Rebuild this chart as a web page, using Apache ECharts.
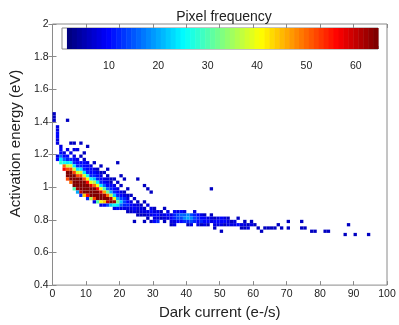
<!DOCTYPE html>
<html>
<head>
<meta charset="utf-8">
<script src="https://cdn.jsdelivr.net/npm/echarts@6/dist/echarts.min.js"></script>
<style>
html,body{margin:0;padding:0;background:#fff;}
#chart{width:399px;height:325px;}
</style>
</head>
<body>
<div id="chart"></div>
<script>
// ---- data: 2D histogram cells [dark current bin centre, activation energy bin centre, pixel count]
const BIN_X = 1;      // e-/s
const BIN_Y = 0.02;   // eV

const strayCells = [
  [0.5,1.45,6],[0.5,1.43,6],[0.5,1.41,6],[4.5,1.41,6],
  [5.5,1.27,6],[6.5,1.27,6],[8.5,1.27,6],[10.5,1.25,6],[6.5,1.23,8],[7.5,1.23,8],[9.5,1.21,6],
  [12.5,1.15,6],[14.5,1.13,6],[16.5,1.11,6],[19.5,1.15,6],[20.5,1.07,6],[21.5,1.05,6],
  [25.5,1.05,6],[27.5,1.01,6],[28.5,0.99,6],[29.5,0.97,6],[22.5,0.99,6],[47.5,0.99,6]
];

const leftCells = [
  [1.5,1.37,8],[1.5,1.35,8],[1.5,1.33,10],[1.5,1.31,10],[1.5,1.29,8],[1.5,1.27,8],[1.5,1.19,8],[1.5,1.17,10],
  [2.5,1.25,8],[2.5,1.23,10],[2.5,1.21,10],[2.5,1.19,16],[2.5,1.17,24],[2.5,1.15,28],
  [3.5,1.21,8],[3.5,1.19,10],[3.5,1.17,16],[3.5,1.15,26],[3.5,1.13,50],[3.5,1.11,56],
  [4.5,1.23,8],[4.5,1.19,10],[4.5,1.17,12],[4.5,1.15,24],[4.5,1.13,38],[4.5,1.11,52],[4.5,1.09,64],[4.5,1.07,64],[4.5,1.05,52],
  [5.5,1.21,8],[5.5,1.17,12],[5.5,1.15,24],[5.5,1.13,38],[5.5,1.11,52],[5.5,1.09,64],[5.5,1.07,64],[5.5,1.05,64],[5.5,1.03,50],
  [6.5,1.19,8],[6.5,1.17,10],[6.5,1.15,12],[6.5,1.13,24],[6.5,1.11,38],[6.5,1.09,52],[6.5,1.07,64],[6.5,1.05,64],[6.5,1.03,64],[6.5,1.01,64],[6.5,0.99,30],
  [7.5,1.17,8],[7.5,1.15,10],[7.5,1.13,12],[7.5,1.11,24],[7.5,1.09,38],[7.5,1.07,52],[7.5,1.05,64],[7.5,1.03,64],[7.5,1.01,64],[7.5,0.99,62],[7.5,0.97,20],
  [8.5,1.19,6],[8.5,1.15,10],[8.5,1.13,12],[8.5,1.11,24],[8.5,1.09,38],[8.5,1.07,52],[8.5,1.05,64],[8.5,1.03,64],[8.5,1.01,64],[8.5,0.99,64],[8.5,0.97,60],[8.5,0.95,12],
  [9.5,1.17,6],[9.5,1.15,10],[9.5,1.13,10],[9.5,1.11,12],[9.5,1.09,24],[9.5,1.07,38],[9.5,1.05,52],[9.5,1.03,64],[9.5,1.01,64],[9.5,0.99,64],[9.5,0.97,64],[9.5,0.95,44]
];

const midCells = [
  [10.5,1.15,8],[10.5,1.13,10],[10.5,1.11,10],[10.5,1.09,12],[10.5,1.07,26],[10.5,1.05,40],[10.5,1.03,56],[10.5,1.01,64],[10.5,0.99,64],[10.5,0.97,64],[10.5,0.95,56],[10.5,0.93,12],
  [11.5,1.13,8],[11.5,1.11,10],[11.5,1.09,10],[11.5,1.07,12],[11.5,1.05,26],[11.5,1.03,40],[11.5,1.01,58],[11.5,0.99,64],[11.5,0.97,64],[11.5,0.95,64],[11.5,0.93,36],
  [12.5,1.11,8],[12.5,1.09,10],[12.5,1.07,12],[12.5,1.05,22],[12.5,1.03,36],[12.5,1.01,50],[12.5,0.99,64],[12.5,0.97,64],[12.5,0.95,64],[12.5,0.93,52],[12.5,0.91,8],
  [13.5,1.11,6],[13.5,1.09,8],[13.5,1.07,10],[13.5,1.05,12],[13.5,1.03,24],[13.5,1.01,40],[13.5,0.99,56],[13.5,0.97,64],[13.5,0.95,64],[13.5,0.93,64],[13.5,0.91,30],
  [14.5,1.09,6],[14.5,1.07,8],[14.5,1.05,10],[14.5,1.03,12],[14.5,1.01,24],[14.5,0.99,40],[14.5,0.97,58],[14.5,0.95,64],[14.5,0.93,64],[14.5,0.91,40],[14.5,0.89,8],
  [15.5,1.09,6],[15.5,1.05,8],[15.5,1.03,10],[15.5,1.01,16],[15.5,0.99,30],[15.5,0.97,46],[15.5,0.95,62],[15.5,0.93,64],[15.5,0.91,44],[15.5,0.89,10],
  [16.5,1.07,6],[16.5,1.05,8],[16.5,1.03,8],[16.5,1.01,10],[16.5,0.99,16],[16.5,0.97,32],[16.5,0.95,50],[16.5,0.93,64],[16.5,0.91,60],[16.5,0.89,14],
  [17.5,1.05,6],[17.5,1.03,6],[17.5,1.01,10],[17.5,0.99,12],[17.5,0.97,20],[17.5,0.95,36],[17.5,0.93,60],[17.5,0.91,64],[17.5,0.89,22],
  [18.5,1.05,6],[18.5,1.01,8],[18.5,0.99,10],[18.5,0.97,12],[18.5,0.95,22],[18.5,0.93,40],[18.5,0.91,62],[18.5,0.89,26],[18.5,0.87,8],
  [19.5,1.03,6],[19.5,0.99,8],[19.5,0.97,10],[19.5,0.95,12],[19.5,0.93,20],[19.5,0.91,32],[19.5,0.89,24],[19.5,0.87,10],
  [20.5,1.01,6],[20.5,0.97,8],[20.5,0.95,10],[20.5,0.93,14],[20.5,0.91,22],[20.5,0.89,16],[20.5,0.87,8],
  [21.5,0.97,6],[21.5,0.95,8],[21.5,0.93,12],[21.5,0.91,14],[21.5,0.89,12],[21.5,0.87,8],
  [22.5,0.95,6],[22.5,0.93,8],[22.5,0.91,10],[22.5,0.89,12],[22.5,0.87,8],[22.5,0.85,6],
  [23.5,0.95,6],[23.5,0.91,8],[23.5,0.89,10],[23.5,0.87,8],[23.5,0.85,6],
  [24.5,0.93,6],[24.5,0.89,8],[24.5,0.87,10],[24.5,0.85,8],[24.5,0.79,6],
  [25.5,0.91,6],[25.5,0.89,8],[25.5,0.87,8],[25.5,0.85,6],[25.5,0.83,6],
  [26.5,0.89,6],[26.5,0.87,8],[26.5,0.85,8],[26.5,0.83,6],
  [27.5,0.91,6],[27.5,0.87,6],[27.5,0.85,8],[27.5,0.83,6],[27.5,0.79,6],
  [28.5,0.89,8],[28.5,0.85,8],[28.5,0.83,8],[28.5,0.81,6]
];

const tailCells = [
  [29.5,0.87,8],[29.5,0.85,10],[29.5,0.83,8],[29.5,0.79,6],
  [30.5,0.87,6],[30.5,0.85,8],[30.5,0.83,10],[30.5,0.81,8],[30.5,0.79,10],
  [31.5,0.85,8],[31.5,0.83,10],[31.5,0.81,8],[31.5,0.79,12],
  [32.5,0.85,6],[32.5,0.83,8],[32.5,0.81,6],
  [33.5,0.87,6],[33.5,0.83,8],[33.5,0.81,8],[33.5,0.79,6],
  [34.5,0.85,8],[34.5,0.83,10],[34.5,0.81,8],
  [35.5,0.83,8],[35.5,0.81,10],[35.5,0.79,8],[35.5,0.77,6],
  [36.5,0.85,10],[36.5,0.83,12],[36.5,0.81,12],[36.5,0.79,8],[36.5,0.77,8],
  [37.5,0.85,8],[37.5,0.83,14],[37.5,0.81,14],[37.5,0.79,10],
  [38.5,0.85,10],[38.5,0.83,16],[38.5,0.81,14],[38.5,0.79,10],
  [39.5,0.85,8],[39.5,0.83,16],[39.5,0.81,18],[39.5,0.79,12],
  [40.5,0.83,18],[40.5,0.81,20],[40.5,0.79,12],[40.5,0.77,6],
  [41.5,0.83,14],[41.5,0.81,18],[41.5,0.79,14],[41.5,0.77,8],
  [42.5,0.85,8],[42.5,0.83,12],[42.5,0.81,14],[42.5,0.79,12],
  [43.5,0.83,10],[43.5,0.81,12],[43.5,0.79,10],[43.5,0.77,8],
  [44.5,0.83,8],[44.5,0.81,10],[44.5,0.79,12],[44.5,0.77,6],
  [45.5,0.83,6],[45.5,0.81,10],[45.5,0.79,10],[45.5,0.77,8],
  [46.5,0.81,8],[46.5,0.79,10],[46.5,0.77,6],
  [47.5,0.83,6],[47.5,0.81,8],[47.5,0.79,8],
  [48.5,0.81,6],[48.5,0.79,10],[48.5,0.77,8],[48.5,0.75,6],
  [49.5,0.81,8],[49.5,0.79,10],[49.5,0.77,8],
  [50.5,0.81,10],[50.5,0.79,10],[50.5,0.77,8],[50.5,0.73,6],
  [51.5,0.81,8],[51.5,0.79,10],[51.5,0.77,6],
  [52.5,0.81,6],[52.5,0.79,8],[52.5,0.77,8],
  [53.5,0.79,6],[53.5,0.77,8],
  [54.5,0.79,8],[54.5,0.77,8],
  [55.5,0.81,6],[55.5,0.77,10],
  [56.5,0.77,8],[56.5,0.75,6],
  [57.5,0.79,6],[57.5,0.77,8],[57.5,0.75,6],
  [58.5,0.77,6],[58.5,0.75,8],
  [59.5,0.79,6],[59.5,0.77,8],
  [60.5,0.77,6],[61.5,0.75,6],[62.5,0.73,6],[63.5,0.75,6],[64.5,0.75,6],[65.5,0.75,6],
  [66.5,0.75,6],[67.5,0.77,6],[68.5,0.75,6],[70.5,0.79,6],[70.5,0.75,6],
  [74.5,0.75,6],[74.5,0.79,6],[75.5,0.75,6],[77.5,0.73,6],[78.5,0.73,6],
  [81.5,0.73,6],[82.5,0.73,6],[88.5,0.77,6],[87.5,0.71,6],[90.5,0.71,6],[94.5,0.71,6]
];

const xTicks = [0,10,20,30,40,50,60,70,80,90,100];
const yTicks = [0.4,0.6,0.8,1,1.2,1.4,1.6,1.8,2];
const colorbarTicks = [10,20,30,40,50,60];
const colorLevels = [2,3,4,5,6,7,8,9,10,11,12,13,14,15,16,17,18,19,20,21,22,23,24,25,26,27,28,29,30,31,32,33,
  34,35,36,37,38,39,40,41,42,43,44,45,46,47,48,49,50,51,52,53,54,55,56,57,58,59,60,61,62,63,64];
const JET = ['#000080','#0000ff','#0080ff','#00ffff','#80ff80','#ffff00','#ff8000','#ff0000','#800000'];

const allCells = [].concat(strayCells, leftCells, midCells, tailCells);

const FONT = 'Liberation Sans, Arial, sans-serif';
const AX = '#8a8a8a';
const TXT = '#222';

function cellItem(params, api) {
  const x = api.value(0), y = api.value(1);
  const p0 = api.coord([x - BIN_X / 2, y + BIN_Y / 2]);
  const p1 = api.coord([x + BIN_X / 2, y - BIN_Y / 2]);
  return {type: 'rect', shape: {x: p0[0], y: p0[1], width: p1[0] - p0[0], height: p1[1] - p0[1]},
    style: {fill: api.visual('color')}};
}
function barItem(params, api) {
  const v = api.value(0);
  const p0 = api.coord([v - 0.5, 1]);
  const p1 = api.coord([v + 0.5, 0]);
  return {type: 'rect', shape: {x: p0[0], y: p0[1], width: p1[0] - p0[0] + 0.5, height: p1[1] - p0[1]},
    style: {fill: api.visual('color')}};
}

const chart = echarts.init(document.getElementById('chart'), null, {renderer: 'canvas'});
const tickCommon = {show: true, inside: true, length: 4, lineStyle: {color: AX}};
chart.setOption({
  animation: false,
  backgroundColor: '#fff',
  title: {text: 'Pixel frequency', left: 219, top: 5, textAlign: 'center',
    textStyle: {fontFamily: FONT, fontSize: 14, fontWeight: 'normal', color: TXT}},
  grid: [
    {left: 52, right: 12, top: 24, bottom: 37, show: true, borderColor: AX, borderWidth: 1, backgroundColor: 'transparent'},
    {left: 62, top: 28, width: 316, height: 21, show: true, borderColor: AX, borderWidth: 1, backgroundColor: '#fff', z: 5}
  ],
  visualMap: {type: 'continuous', show: false, min: 2, max: 64, dimension: 2, seriesIndex: [0, 1],
    inRange: {color: JET}},
  xAxis: [
    {type: 'value', gridIndex: 0, min: xTicks[0], max: xTicks[xTicks.length - 1], interval: 10,
      name: 'Dark current (e-/s)', nameLocation: 'middle', nameGap: 17,
      nameTextStyle: {fontFamily: FONT, fontSize: 15, color: TXT},
      axisLine: {show: false}, axisTick: tickCommon, splitLine: {show: false},
      axisLabel: {fontFamily: FONT, fontSize: 10.5, color: TXT, margin: 4}},
    {type: 'value', gridIndex: 0, position: 'top', min: xTicks[0], max: xTicks[xTicks.length - 1], interval: 10,
      axisLine: {show: false}, axisTick: tickCommon, splitLine: {show: false}, axisLabel: {show: false}},
    {type: 'value', gridIndex: 1, min: 0.5, max: 64.5, interval: 10,
      axisLine: {show: false}, axisTick: {show: true, inside: true, length: 3, lineStyle: {color: AX}},
      splitLine: {show: false},
      axisLabel: {fontFamily: FONT, fontSize: 10.5, color: TXT, margin: 12,
        customValues: colorbarTicks}, customValues: colorbarTicks},
    {type: 'value', gridIndex: 1, position: 'top', min: 0.5, max: 64.5,
      axisLine: {show: false}, axisTick: {show: true, inside: true, length: 3, lineStyle: {color: AX}, customValues: colorbarTicks},
      splitLine: {show: false}, axisLabel: {show: false}}
  ],
  yAxis: [
    {type: 'value', gridIndex: 0, min: yTicks[0], max: yTicks[yTicks.length - 1], interval: 0.2,
      name: 'Activation energy (eV)', nameLocation: 'middle', nameGap: 24,
      nameTextStyle: {fontFamily: FONT, fontSize: 15, color: TXT, padding: [0, 0, 0, 22]},
      axisLine: {show: false}, axisTick: tickCommon, splitLine: {show: false},
      axisLabel: {fontFamily: FONT, fontSize: 10.5, color: TXT, margin: 4,
        formatter: v => String(+v.toFixed(1))}},
    {type: 'value', gridIndex: 0, position: 'right', min: yTicks[0], max: yTicks[yTicks.length - 1], interval: 0.2,
      axisLine: {show: false}, axisTick: tickCommon, splitLine: {show: false}, axisLabel: {show: false}},
    {type: 'value', gridIndex: 1, min: 0, max: 1, show: false}
  ],
  series: [
    {type: 'custom', xAxisIndex: 0, yAxisIndex: 0, renderItem: cellItem, clip: true,
      encode: {x: 0, y: 1}, data: allCells, z: 2},
    {type: 'custom', xAxisIndex: 2, yAxisIndex: 2, renderItem: barItem, z: 6,
      encode: {x: 0}, data: colorLevels.map(v => [v, 0.5, v])}
  ]
});
</script>
</body>
</html>
